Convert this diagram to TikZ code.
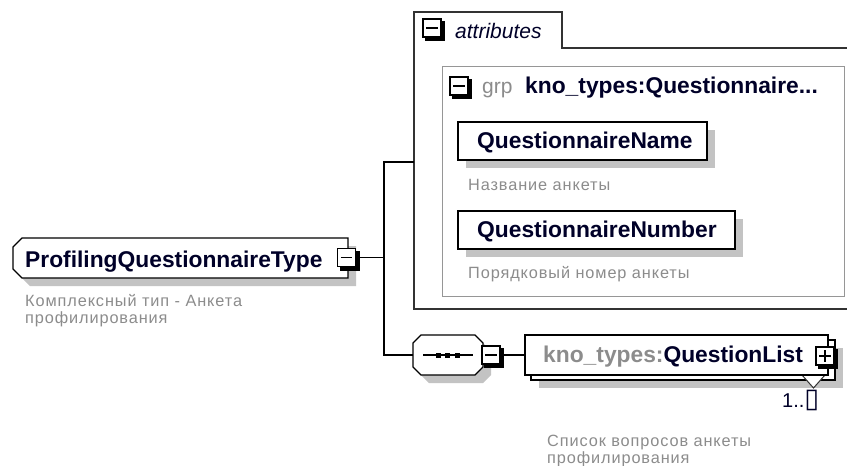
\documentclass[tikz,border=0pt]{standalone}
\usepackage{fontspec}
\setmainfont{Liberation Sans}
\newfontfamily\symfont{DejaVu Sans}
\newfontfamily\descfont[LetterSpace=5.5]{Liberation Sans}
\usetikzlibrary{calc}
\definecolor{descgray}{RGB}{140,140,140}
\definecolor{shadowgray}{RGB}{195,195,195}
\definecolor{grpgray}{RGB}{150,150,150}
\definecolor{inkblue}{RGB}{0,0,40}
\definecolor{framegray}{RGB}{50,50,50}
\tikzset{
  elline/.style={draw=black, line width=1.3pt},
  conn/.style={draw=black, line width=1.3pt},
  plainbox/.style={rectangle, inner sep=0pt, minimum width=#1},
  elbox/.style={rectangle, draw=black, line width=1.3pt, fill=white, inner sep=0pt},
  tgboxst/.style={rectangle, draw=black, line width=1.2pt, fill=white, inner sep=0pt, minimum width=18pt, minimum height=18pt},
  boldtxt/.style={font=\fontsize{22.8}{27}\selectfont\bfseries, text=inkblue, inner sep=0pt, anchor=base west},
  desctxt/.style={font=\descfont\fontsize{16.3}{20}\selectfont, text=descgray, inner sep=0pt, anchor=base west},
}
\newcommand\tgbox[4]{%
  \node[tgboxst] (#1) at (#2,#3) {};
  \draw[line width=3.5pt] ($(#1.north east)+(1.75pt,-3pt)$) -- ($(#1.south east)+(1.75pt,-1.75pt)$) -- ($(#1.south west)+(3pt,-1.75pt)$);
  \draw[line width=1.3pt] ($(#1.west)+(4pt,0)$) -- ($(#1.east)+(-4pt,0)$);
  \ifnum#4=1 \draw[line width=1.3pt] ($(#1.north)+(0,-4pt)$) -- ($(#1.south)+(0,4pt)$);\fi
}
\begin{document}
\begin{tikzpicture}[x=1pt,y=-1pt]
\useasboundingbox[fill=white] (0,0) rectangle (847,466);

% ---------- attributes frame ----------
\draw[draw=framegray, line width=1.3pt]
  (850,309) -- (414,309) -- (414,12) -- (562,12) -- (562,48) -- (850,48);
\coordinate (attrin) at (414,162);
\tgbox{attrminus}{432}{28}{0}
\node[font=\fontsize{21}{25}\selectfont\itshape, text=inkblue, inner sep=0pt, anchor=base west] (attrlbl) at (455,38) {attributes};

% ---------- group box ----------
\node[rectangle, draw=grpgray, line width=1pt, minimum width=402pt, minimum height=230pt, inner sep=0pt] (grp) at (643,181) {};
\tgbox{grpminus}{459}{86}{0}
\node[font=\fontsize{21}{25}\selectfont, text=descgray, inner sep=0pt, anchor=base west] (grplbl) at (482,93) {grp};
\node[boldtxt] (grpname) at (525,93) {kno\_types:Questionnaire...};

% QuestionnaireName
\fill[shadowgray] (466,130) rectangle (715,168);
\node[elbox, minimum width=249pt, minimum height=38pt] (qname) at (582.5,141) {};
\node[boldtxt] (qnametxt) at (477,148) {QuestionnaireName};
\node[desctxt] (qnamedesc) at (468,190) {Название анкеты};

% QuestionnaireNumber
\fill[shadowgray] (466,219) rectangle (743,257);
\node[elbox, minimum width=277pt, minimum height=38pt] (qnum) at (596.5,230) {};
\node[boldtxt] (qnumtxt) at (477,237) {QuestionnaireNumber};
\node[desctxt] (qnumdesc) at (468,278) {Порядковый номер анкеты};

% ---------- main element ----------
\node[plainbox=335pt, minimum height=40pt] (main) at (180.5,258) {};
\fill[shadowgray] (30,246) -- (356,246) -- (356,286) -- (30,286) -- (21,277) -- (21,255) -- cycle;
\draw[elline, fill=white] (22,238) -- (348,238) -- (348,278) -- (22,278) -- (13,269) -- (13,247) -- cycle;
\node[boldtxt] (maintxt) at (25,267) {ProfilingQuestionnaireType};
\tgbox{mainminus}{346.5}{257.5}{0}
\node[desctxt] (maindesc1) at (25,306) {Комплексный тип - Анкета};
\node[desctxt] (maindesc2) at (25,323) {профилирования};

% ---------- sequence ----------
\node[plainbox=70pt, minimum height=40pt] (seq) at (448,355) {};
\fill[shadowgray] (429,343) -- (483,343) -- (491,351) -- (491,375) -- (483,383) -- (429,383) -- (421,375) -- (421,351) -- cycle;
\draw[elline, fill=white] (421,335) -- (475,335) -- (483,343) -- (483,367) -- (475,375) -- (421,375) -- (413,367) -- (413,343) -- cycle;
\draw[line width=1.3pt] (423,355) -- (473,355);
\foreach \dx in {438,447,457} \fill (\dx-2.5,352.5) rectangle (\dx+2.5,357.5);
\tgbox{seqminus}{491}{355}{0}

% ---------- QuestionList ----------
\fill[shadowgray] (539,348) rectangle (843,388);
\node[elbox, minimum width=304pt, minimum height=40pt] (qlback) at (683,360) {};
\draw[draw=framegray, line width=1pt, fill=white] (802,375) -- (825,375) -- (813.5,388) -- cycle;
\node[elbox, minimum width=303pt, minimum height=40pt] (qlfront) at (676.5,355) {};
\node[boldtxt] (qltxt) at (543,362) {\textcolor{descgray}{kno\_types:}QuestionList};
\tgbox{qlplus}{825}{356}{1}
\node[font=\fontsize{20}{24}\selectfont, text=inkblue, inner sep=0pt, anchor=base west] (qlcard) at (782,407) {1..{\symfont\fontsize{27}{30}\selectfont ▯}};
\node[desctxt] (qldesc1) at (547,446) {Список вопросов анкеты};
\node[desctxt] (qldesc2) at (547,463) {профилирования};

% ---------- connectors ----------
\coordinate (junc) at (384,257.5);
\draw[conn] (mainminus.east) -- (junc);
\draw[conn] (junc) |- (attrin);
\draw[conn] (junc) |- (seq.west);
\draw[conn] (seqminus.east) -- (qlfront.west);
\end{tikzpicture}
\end{document}
